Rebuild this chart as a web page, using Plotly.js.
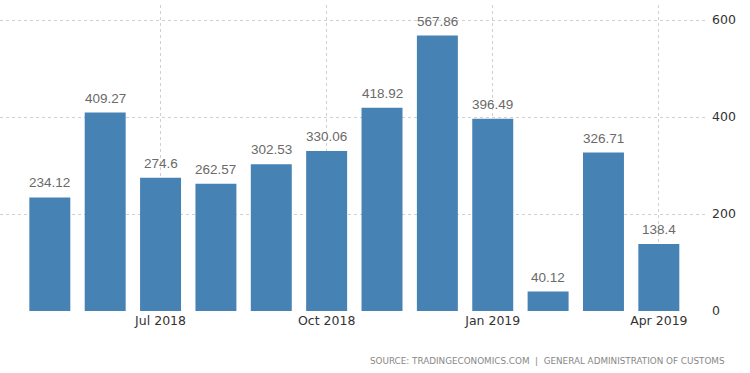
<!DOCTYPE html>
<html>
<head>
<meta charset="utf-8">
<script src="https://cdn.plot.ly/plotly-3.0.1.min.js"></script>
<style>html,body{margin:0;padding:0;background:#fff;}#chart{width:750px;height:373px;}</style>
</head>
<body>
<div id="chart"></div>
<script>
const months = ["May 2018","Jun 2018","Jul 2018","Aug 2018","Sep 2018","Oct 2018","Nov 2018","Dec 2018","Jan 2019","Feb 2019","Mar 2019","Apr 2019"];
const values = [234.12, 409.27, 274.6, 262.57, 302.53, 330.06, 418.92, 567.86, 396.49, 40.12, 326.71, 138.4];
const tickMonths = ["Jul 2018","Oct 2018","Jan 2019","Apr 2019"];
const yTicks = [0, 200, 400, 600];
const sourceText = "SOURCE: TRADINGECONOMICS.COM  |  GENERAL ADMINISTRATION OF CUSTOMS";

const trace = {
  type: "bar",
  x: months,
  y: values,
  marker: {color: "#4682b4"},
  hoverinfo: "none"
};

const valueLabels = months.map((m, i) => ({
  xref: "x", yref: "y",
  x: m, y: values[i],
  text: String(values[i]),
  showarrow: false,
  xanchor: "center", yanchor: "bottom",
  yshift: 5,
  font: {family: "Liberation Sans, Arial, sans-serif", size: 13.5, color: "#6a6a6a"}
}));

const layout = {
  width: 750, height: 373,
  margin: {l: 0, r: 43, t: 5, b: 62},
  paper_bgcolor: "#fff", plot_bgcolor: "#fff",
  bargap: 0.26,
  showlegend: false,
  font: {family: "DejaVu Sans, sans-serif", color: "#333"},
  xaxis: {
    type: "category",
    range: [-0.9, 11.87],
    tickmode: "array",
    tickvals: tickMonths,
    ticktext: tickMonths,
    showgrid: true,
    gridcolor: "#d0d0d0",
    griddash: "dot",
    gridwidth: 1,
    ticks: "",
    showline: false,
    zeroline: false,
    tickfont: {size: 12.5, color: "#333"}
  },
  yaxis: {
    side: "right",
    range: [0, 631],
    tickmode: "array",
    tickvals: yTicks,
    ticktext: yTicks.map(String),
    showgrid: true,
    gridcolor: "#d0d0d0",
    griddash: "dot",
    gridwidth: 1,
    zeroline: false,
    showline: false,
    ticks: "",
    ticklabelstandoff: 4,
    tickfont: {size: 12.5, color: "#333"}
  },
  annotations: valueLabels.concat([{
    xref: "paper", yref: "paper",
    x: 727/707, y: -0.14,
    xanchor: "right", yanchor: "top",
    text: sourceText,
    showarrow: false,
    font: {family: "DejaVu Sans, sans-serif", size: 8.8, color: "#888"}
  }])
};

Plotly.newPlot("chart", [trace], layout, {staticPlot: true, displayModeBar: false});
</script>
</body>
</html>
